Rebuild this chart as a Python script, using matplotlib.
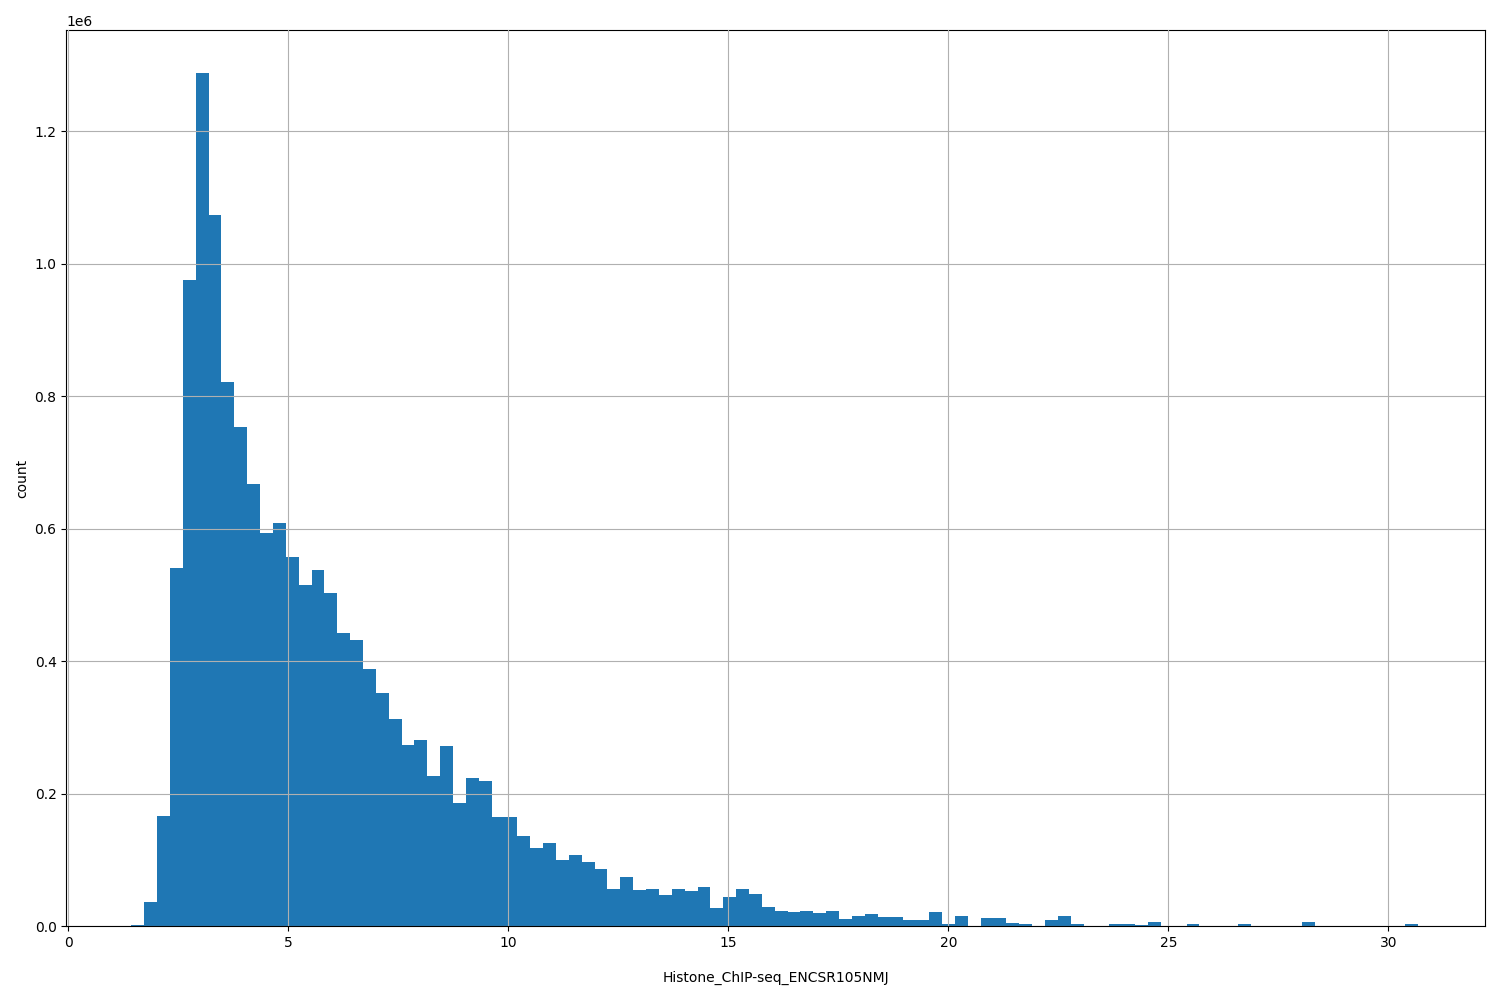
import matplotlib
matplotlib.use("Agg")
import matplotlib.pyplot as plt
import numpy as np

# histogram bin edges (100 bins) and counts (thousands)
bin_start = 1.43
bin_width = 0.2925
counts_k = [
    2, 36, 167, 541, 976, 1288, 1073, 822, 753, 667,
    594, 609, 558, 515, 538, 503, 443, 432, 388, 352,
    313, 274, 281, 227, 272, 186, 224, 219, 165, 165,
    136, 118, 125, 100, 108, 97, 86, 56, 75, 55,
    57, 47, 56, 53, 59, 27, 44, 56, 48, 29,
    23, 21, 23, 20, 23, 11, 16, 18, 14, 14,
    9, 9, 22, 3, 15, 0, 12, 13, 5, 3,
    0, 10, 15, 3, 0, 1, 3, 3, 2, 6,
    0, 0, 4, 0, 1, 0, 4, 0, 0, 1,
    0, 7, 0, 0, 0, 0, 0, 0, 0, 3,
]

edges = bin_start + bin_width * np.arange(len(counts_k) + 1)
weights = np.array(counts_k) * 1000

fig, ax = plt.subplots(figsize=(15, 10), dpi=100)
ax.hist(edges[:-1], bins=edges, weights=weights, color="#1f77b4")
ax.grid(True)
ax.set_axisbelow(False)
ax.set_xlim(-0.05, 32.2)
ax.set_xlabel("Histone_ChIP-seq_ENCSR105NMJ", labelpad=15)
ax.set_ylabel("count")
plt.tight_layout()
plt.savefig("out.png")
